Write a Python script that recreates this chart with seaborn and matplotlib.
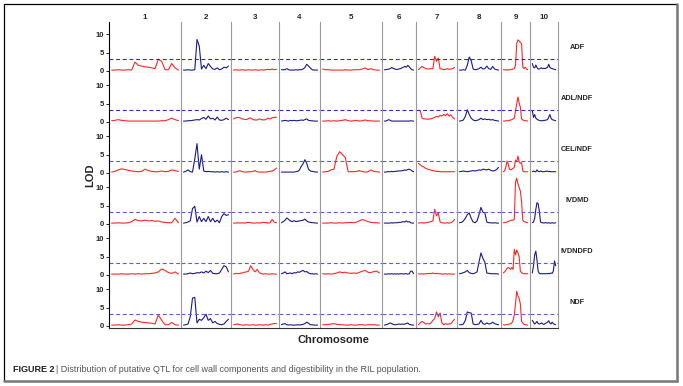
import numpy as np
import pandas as pd
import matplotlib
matplotlib.use("Agg")
import matplotlib.pyplot as plt
from matplotlib.lines import Line2D
import seaborn as sns

# chromosome lengths (drawn widths), traits and threshold
traits = ["ADF", "ADL/NDF", "CEL/NDF", "IVDMD", "IVDNDFD", "NDF"]
chrom_names = [str(i) for i in range(1, 11)]
chrom_len = [72, 50, 48, 41, 62, 34, 41, 44, 29, 28]
threshold = 3.2

## LOD profiles, one list per chromosome (evenly spaced along the chromosome)
adf = [
    [0.2, 0.2, 0.3, 0.2, 0.2, 0.3, 0.2, 2.4, 1.5, 1.3, 1.1, 1.0, 0.8, 0.6, 3.2, 2.6, 0.3, 0.3, 2.0, 0.8, 0.2],
    [0.2, 0.2, 0.3, 0.2, 0.2, 0.3, 8.6, 6.8, 0.5, 1.5, 0.6, 2.0, 1.2, 0.5, 0.4, 0.8, 0.3, 0.5, 1.0, 0.8, 1.3],
    [0.2, 0.3, 0.2, 0.2, 0.3, 0.2, 0.2, 0.3, 0.2, 0.2, 0.3, 0.2, 0.2, 0.3, 0.2, 0.3, 0.4, 0.3, 0.5, 0.3, 0.4],
    [0.3, 0.3, 0.3, 0.6, 0.3, 0.2, 0.2, 0.2, 0.3, 0.2, 0.3, 0.3, 0.5, 0.9, 1.8, 1.3, 0.8, 0.3, 0.2, 0.2, 0.2],
    [0.5, 0.3, 0.3, 0.2, 0.2, 0.2, 0.2, 0.2, 0.3, 0.2, 0.2, 0.3, 0.3, 0.3, 0.5, 0.8, 0.3, 0.6, 0.3, 0.2, 0.2],
    [0.3, 0.3, 0.4, 0.5, 0.6, 0.9, 0.7, 0.5, 0.4, 0.4, 0.5, 0.6, 0.8, 1.0, 1.2, 1.0, 1.5, 1.1, 0.6, 0.3, 0.2],
    [0.3, 0.8, 1.2, 0.9, 0.6, 0.5, 0.5, 0.6, 0.6, 4.0, 2.6, 3.5, 0.5, 0.5, 0.3, 0.4, 0.6, 0.4, 0.5, 0.6, 0.9],
    [0.2, 0.2, 0.3, 0.2, 1.5, 3.8, 2.8, 0.5, 0.3, 0.4, 0.6, 1.0, 0.5, 0.6, 1.3, 0.6, 0.4, 1.2, 0.5, 0.3, 0.2],
    [0.3, 0.3, 0.2, 0.3, 0.2, 0.3, 0.3, 0.4, 0.5, 0.6, 1.5, 7.5, 8.5, 8.2, 7.8, 7.5, 1.0, 0.6, 1.0, 0.5, 0.3],
    [2.0, 1.0, 0.8, 1.6, 0.9, 0.5, 0.5, 0.7, 0.8, 0.6, 0.7, 0.6, 0.8, 0.9, 1.8, 1.0, 0.7, 0.6, 0.5, 0.4, 0.3],
]
adl_ndf = [
    [0.3, 0.4, 0.6, 0.4, 0.3, 0.2, 0.2, 0.2, 0.2, 0.2, 0.2, 0.2, 0.2, 0.2, 0.2, 0.3, 0.3, 0.6, 1.0, 0.6, 0.3],
    [0.2, 0.2, 0.3, 0.3, 0.4, 0.5, 0.6, 0.5, 0.9, 1.2, 0.7, 1.6, 0.8, 1.0, 0.5, 1.3, 0.5, 0.4, 0.6, 1.0, 0.6],
    [0.8, 1.1, 1.2, 1.1, 0.8, 0.7, 0.6, 0.9, 1.1, 0.6, 0.5, 0.5, 0.8, 0.6, 0.5, 0.6, 1.0, 0.8, 1.1, 1.2, 1.3],
    [0.2, 0.3, 0.4, 0.3, 0.2, 0.4, 0.3, 0.4, 0.3, 0.3, 0.4, 0.5, 0.4, 0.6, 0.8, 0.4, 0.3, 0.3, 0.2, 0.2, 0.2],
    [0.2, 0.2, 0.3, 0.2, 0.3, 0.2, 0.3, 0.4, 0.6, 0.3, 0.2, 0.3, 0.4, 0.2, 0.3, 0.5, 0.3, 0.3, 0.2, 0.2, 0.2],
    [0.2, 0.2, 0.4, 0.6, 0.4, 0.2, 0.2, 0.2, 0.2, 0.2, 0.2, 0.2, 0.2, 0.2, 0.2, 0.2, 0.2, 0.2, 0.3, 0.2, 0.2],
    [3.2, 3.0, 1.0, 0.8, 0.8, 0.7, 0.8, 0.8, 1.0, 1.2, 1.5, 1.3, 1.8, 1.6, 2.0, 1.7, 2.2, 1.6, 1.9, 1.2, 0.8],
    [0.2, 0.3, 0.5, 1.5, 3.3, 2.0, 1.0, 0.5, 0.3, 0.4, 0.6, 1.0, 0.6, 0.8, 0.6, 0.7, 0.5, 0.6, 0.4, 0.3, 0.2],
    [0.2, 0.2, 0.3, 0.3, 0.3, 0.4, 0.5, 0.6, 0.8, 1.0, 3.0, 5.0, 6.8, 5.2, 4.0, 0.8, 0.5, 0.4, 0.3, 0.3, 0.2],
    [3.0, 1.2, 2.0, 1.0, 0.7, 0.5, 0.4, 0.3, 0.3, 0.3, 0.4, 0.4, 0.5, 0.6, 1.2, 2.0, 1.0, 0.6, 0.5, 0.4, 0.3],
]
cel_ndf = [
    [0.2, 0.4, 0.8, 1.1, 0.9, 0.7, 0.5, 0.4, 0.3, 0.4, 1.0, 0.6, 0.4, 0.3, 0.3, 0.5, 0.3, 0.4, 0.8, 0.6, 0.4],
    [0.2, 0.4, 0.8, 0.3, 0.2, 3.8, 8.0, 1.0, 5.0, 0.5, 0.3, 0.4, 0.3, 0.3, 0.2, 0.3, 0.2, 0.3, 0.2, 0.3, 0.2],
    [0.2, 0.2, 0.4, 0.6, 0.3, 0.2, 0.2, 0.3, 0.3, 0.4, 0.6, 0.3, 0.2, 0.2, 0.2, 0.2, 0.3, 0.4, 0.5, 0.8, 1.3],
    [0.2, 0.2, 0.2, 0.2, 0.2, 0.2, 0.2, 0.2, 0.3, 0.4, 0.8, 1.8, 2.5, 3.6, 2.6, 1.0, 0.5, 0.4, 0.3, 0.2, 0.2],
    [0.2, 0.3, 0.4, 0.8, 1.0, 4.5, 5.8, 5.0, 4.2, 0.3, 0.3, 0.3, 0.4, 0.6, 0.3, 0.2, 0.3, 0.8, 0.4, 0.3, 0.2],
    [0.2, 0.2, 0.3, 0.3, 0.3, 0.4, 0.3, 0.4, 0.4, 0.5, 0.5, 0.5, 0.6, 0.6, 0.8, 0.7, 0.9, 1.0, 0.8, 0.5, 0.3],
    [2.6, 2.2, 1.8, 1.6, 1.2, 1.0, 0.9, 0.7, 0.6, 0.5, 0.4, 0.4, 0.3, 0.3, 0.3, 0.3, 0.3, 0.3, 0.3, 0.3, 0.3],
    [0.3, 0.4, 0.5, 0.4, 0.3, 0.4, 0.5, 0.6, 0.5, 0.6, 0.8, 0.7, 1.0, 0.9, 0.8, 1.0, 0.7, 0.5, 0.6, 0.9, 1.5],
    [0.3, 0.5, 1.5, 3.2, 2.5, 1.0, 0.8, 1.0, 1.2, 1.5, 3.5, 3.0, 4.6, 3.0, 2.6, 2.8, 0.5, 0.3, 0.3, 0.3, 0.3],
    [0.3, 0.5, 0.3, 0.3, 0.8, 0.4, 0.3, 0.5, 0.4, 0.3, 0.3, 0.4, 0.4, 0.5, 0.3, 0.4, 0.3, 0.3, 0.3, 0.3, 0.3],
]
ivdmd = [
    [0.2, 0.2, 0.3, 0.2, 0.2, 0.3, 0.6, 1.2, 0.9, 0.8, 1.0, 0.8, 0.9, 0.7, 0.8, 0.5, 0.4, 0.3, 0.3, 1.5, 0.3],
    [0.2, 0.3, 0.5, 0.8, 4.2, 4.8, 0.5, 2.0, 0.6, 1.5, 0.6, 2.0, 0.6, 1.5, 0.5, 1.0, 0.3, 2.0, 2.8, 2.3, 2.5],
    [0.2, 0.2, 0.3, 0.2, 0.3, 0.2, 0.3, 0.4, 0.3, 0.2, 0.2, 0.3, 0.2, 0.3, 0.4, 0.3, 0.2, 0.3, 1.2, 0.4, 0.3],
    [0.3, 0.6, 1.0, 1.6, 1.2, 0.8, 0.6, 0.9, 0.6, 0.7, 0.8, 0.9, 1.0, 1.3, 0.8, 0.5, 0.4, 0.3, 0.3, 0.2, 0.2],
    [0.2, 0.2, 0.2, 0.3, 0.2, 0.2, 0.3, 0.2, 0.3, 0.3, 0.4, 0.3, 0.5, 0.8, 1.2, 0.9, 0.6, 0.4, 0.3, 0.3, 0.2],
    [0.2, 0.2, 0.2, 0.2, 0.2, 0.3, 0.2, 0.3, 0.3, 0.3, 0.4, 0.4, 0.5, 0.6, 0.5, 0.8, 0.5, 0.6, 0.3, 0.2, 0.2],
    [0.2, 0.3, 0.3, 0.2, 0.3, 0.4, 0.5, 0.6, 0.8, 4.0, 2.2, 3.0, 0.5, 0.3, 0.2, 0.2, 0.3, 0.2, 0.3, 0.6, 1.2],
    [0.3, 0.4, 0.8, 1.5, 2.5, 3.0, 1.5, 0.5, 0.3, 0.8, 2.5, 4.5, 3.2, 3.0, 0.5, 0.3, 0.3, 0.2, 0.3, 0.2, 0.2],
    [0.3, 0.3, 0.4, 0.5, 0.6, 0.8, 0.9, 1.0, 1.0, 1.2, 11.5, 12.5, 11.0, 10.0, 9.0, 6.0, 1.0, 0.6, 0.5, 0.4, 0.3],
    [0.3, 0.5, 1.5, 4.0, 5.8, 5.5, 3.5, 0.5, 0.3, 0.3, 0.2, 0.3, 0.3, 0.2, 0.3, 0.2, 0.2, 0.3, 0.2, 0.2, 0.3],
]
ivdndfd = [
    [0.2, 0.2, 0.2, 0.3, 0.2, 0.2, 0.3, 0.2, 0.3, 0.2, 0.3, 0.3, 0.4, 0.5, 0.8, 1.6, 1.2, 0.6, 0.4, 0.8, 0.2],
    [0.2, 0.2, 0.3, 0.5, 0.3, 0.4, 0.6, 0.5, 0.8, 0.5, 1.0, 0.6, 1.2, 0.4, 0.3, 0.3, 0.5, 1.5, 2.5, 2.2, 0.8],
    [0.2, 0.4, 0.3, 0.4, 0.5, 0.7, 0.8, 1.0, 2.5, 1.5, 0.8, 1.5, 0.6, 0.3, 0.2, 0.3, 0.2, 0.2, 0.3, 0.2, 0.2],
    [0.3, 0.5, 0.8, 0.3, 0.4, 0.5, 0.3, 0.6, 0.5, 0.8, 0.7, 1.0, 1.2, 0.8, 0.9, 0.5, 0.3, 0.3, 0.2, 0.3, 0.2],
    [0.3, 0.2, 0.3, 0.2, 0.3, 0.5, 0.8, 0.6, 0.7, 0.5, 0.4, 0.5, 0.4, 0.7, 1.0, 1.2, 0.7, 0.6, 0.9, 1.0, 0.5],
    [0.2, 0.2, 0.2, 0.3, 0.2, 0.3, 0.2, 0.3, 0.2, 0.3, 0.2, 0.3, 0.3, 0.2, 0.3, 0.3, 0.2, 0.3, 1.0, 1.0, 0.3],
    [0.3, 0.2, 0.3, 0.2, 0.3, 0.3, 0.4, 0.3, 0.5, 0.3, 0.4, 0.3, 0.3, 0.2, 0.2, 0.3, 0.2, 0.3, 0.2, 0.2, 0.2],
    [0.3, 0.4, 0.6, 0.8, 1.2, 0.6, 0.4, 0.3, 0.5, 0.8, 3.5, 6.0, 4.5, 3.5, 0.5, 0.4, 0.3, 0.3, 0.3, 0.3, 0.2],
    [0.5, 0.8, 1.2, 1.8, 2.0, 1.8, 1.5, 2.0, 1.5, 7.0, 5.5, 6.8, 6.0, 5.0, 1.0, 0.6, 0.4, 0.3, 0.3, 0.3, 0.3],
    [0.5, 2.5, 5.5, 6.5, 4.0, 1.0, 0.4, 0.3, 0.3, 0.3, 0.3, 0.3, 0.3, 0.3, 0.4, 0.3, 0.5, 0.4, 1.0, 3.8, 2.5],
]
ndf = [
    [0.2, 0.2, 0.3, 0.2, 0.2, 0.3, 0.5, 1.6, 1.2, 1.0, 0.9, 0.8, 0.7, 0.5, 3.0, 1.5, 0.3, 0.3, 0.9, 0.3, 0.2],
    [0.2, 0.3, 0.5, 2.5, 7.6, 7.8, 0.8, 1.8, 1.5, 2.2, 3.2, 1.5, 2.0, 0.8, 1.2, 0.6, 0.4, 0.3, 0.5, 1.2, 1.8],
    [0.3, 0.4, 0.5, 0.3, 0.2, 0.2, 0.3, 0.2, 0.2, 0.3, 0.2, 0.2, 0.3, 0.2, 0.2, 0.3, 0.2, 0.4, 0.5, 0.6, 0.6],
    [0.3, 0.5, 0.6, 0.3, 0.2, 0.3, 0.2, 0.2, 0.2, 0.3, 0.2, 0.3, 0.4, 0.6, 1.0, 0.7, 0.3, 0.3, 0.2, 0.2, 0.2],
    [0.3, 0.3, 0.4, 0.5, 0.6, 0.4, 0.3, 0.3, 0.2, 0.2, 0.3, 0.2, 0.2, 0.3, 0.3, 0.2, 0.3, 0.3, 0.3, 0.2, 0.2],
    [0.2, 0.3, 0.4, 0.6, 0.8, 0.6, 0.4, 0.3, 0.3, 0.4, 0.5, 0.4, 0.5, 0.4, 0.5, 0.6, 0.8, 0.4, 0.3, 0.2, 0.2],
    [0.3, 0.8, 1.2, 0.9, 0.5, 0.6, 0.5, 0.8, 1.5, 2.0, 3.8, 2.5, 3.5, 0.8, 0.3, 0.6, 0.4, 0.5, 0.6, 1.2, 1.8],
    [0.3, 0.3, 0.5, 1.5, 3.8, 3.6, 3.5, 0.5, 0.3, 0.4, 0.5, 1.5, 0.6, 0.4, 0.8, 0.5, 0.6, 1.0, 0.6, 0.4, 0.3],
    [0.3, 0.2, 0.3, 0.3, 0.4, 0.5, 0.6, 0.8, 1.5, 3.0, 6.0, 9.5, 8.2, 7.5, 6.0, 1.2, 0.8, 0.4, 0.3, 0.3, 0.2],
    [1.5, 1.0, 0.5, 0.8, 1.2, 0.6, 0.5, 0.6, 0.8, 0.5, 0.4, 0.6, 0.8, 1.0, 1.4, 0.8, 0.5, 1.0, 0.6, 0.4, 0.3],
]
lod = [adf, adl_ndf, cel_ndf, ivdmd, ivdndfd, ndf]

red = "#ff2626"
blue = "#1a1a8a"

sns.set_style("white")
plt.rcParams["font.family"] = ["Liberation Sans", "DejaVu Sans"]

W, H = 683, 386
fig = plt.figure(figsize=(W / 100, H / 100), dpi=100)
gs = fig.add_gridspec(6, 10, width_ratios=chrom_len, left=109 / W, right=558 / W,
                      top=1 - 22 / H, bottom=1 - 328 / H, wspace=0, hspace=0)

for r, trait in enumerate(traits):
    # dashed significance line is darker in the top rows
    thr_color = "#2a2ad6" if r < 2 else "#5a5af0"
    for c in range(10):
        ax = fig.add_subplot(gs[r, c])
        vals = lod[r][c]
        L = chrom_len[c]
        df = pd.DataFrame({"pos": np.linspace(0, L, len(vals)), "lod": vals})
        sns.lineplot(data=df, x="pos", y="lod", color=red if c % 2 == 0 else blue,
                     lw=0.8, errorbar=None, ax=ax)
        ax.axhline(threshold, color=thr_color, lw=0.8, ls=(0, (3.5, 2.5)))
        ax.set_xlim(-2.8, L + 2.8)
        ax.set_ylim(-0.6, 13.4)
        ax.set_xlabel("")
        ax.set_ylabel("")
        ax.set_xticks([])

        for sp in ax.spines.values():
            sp.set_color("#9a9a9a")
            sp.set_linewidth(0.8)
        ax.spines["top"].set_visible(False)
        ax.spines["right"].set_visible(c == 9)
        ax.spines["bottom"].set_color("#333333" if r == 5 else "#8a8a8a")

        if c == 0:
            ax.spines["left"].set_color("black")
            ax.set_yticks([0, 5, 10])
            ax.tick_params(axis="y", left=True, length=2.5, width=0.6, pad=1,
                           labelsize=5.5, color="black")
            for lbl in ax.get_yticklabels():
                lbl.set_fontweight("bold")
        else:
            ax.set_yticks([])

        if r == 0:
            ax.set_title(chrom_names[c], fontsize=5.8, fontweight="bold", pad=2)

        if c == 9:
            pos = ax.get_position()
            fig.text(577 / W, pos.y0 + pos.height / 2, trait, ha="center", va="center",
                     fontsize=5.3, fontweight="bold")

fig.text(90 / W, 1 - 175 / H, "LOD", rotation=90, ha="center", va="center",
         fontsize=8, fontweight="bold")
fig.text(333 / W, 1 - 340 / H, "Chromosome", ha="center", va="center",
         fontsize=8, fontweight="bold")

# caption
t1 = fig.text(13 / W, 1 - 369 / H, "FIGURE 2", ha="left", va="center",
              fontsize=6.5, fontweight="bold", color="#222222")
fig.canvas.draw()
bb = t1.get_window_extent()
fig.text((bb.x1 + 2) / W, 1 - 369 / H,
         "| Distribution of putative QTL for cell wall components and digestibility in the RIL population.",
         ha="left", va="center", fontsize=6.5, color="#555555")

# frame around the figure
fig.add_artist(Line2D([4 / W, 677 / W], [1 - 3.5 / H, 1 - 3.5 / H], color="black", lw=0.9))
fig.add_artist(Line2D([4 / W, 4 / W], [1 - 3.5 / H, 1 - 381 / H], color="black", lw=0.9))
fig.add_artist(Line2D([677 / W, 677 / W], [1 - 3.5 / H, 1 - 381 / H], color="#777777", lw=1.8))
fig.add_artist(Line2D([4 / W, 677 / W], [1 - 381 / H, 1 - 381 / H], color="#777777", lw=1.8))

fig.savefig("out.png", dpi=100)
